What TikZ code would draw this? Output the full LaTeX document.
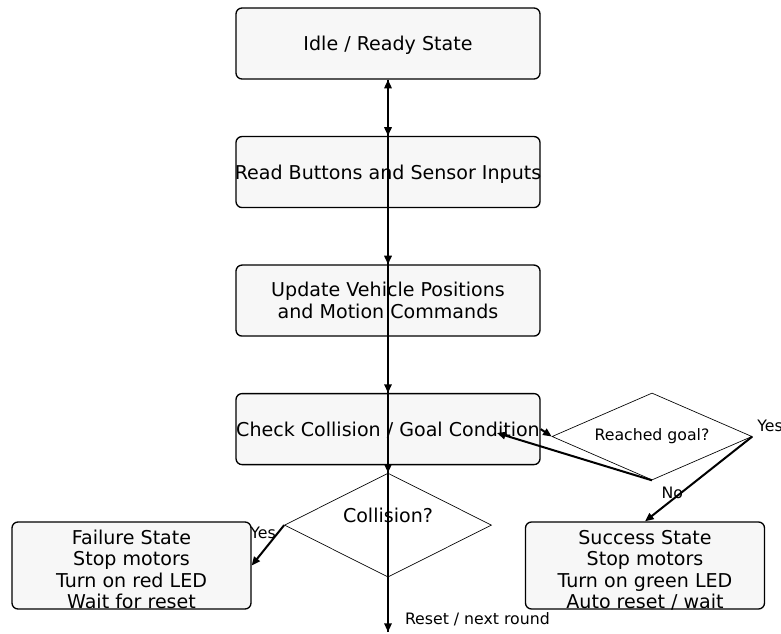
\documentclass[tikz,border=0pt]{standalone}
\usepackage{fontspec}
\setmainfont{DejaVu Sans}
\usetikzlibrary{shapes,arrows.meta,positioning}
\newcommand{\Nodefont}{\fontsize{14.3pt}{16.1pt}\selectfont}
\newcommand{\Edgefont}{\fontsize{11.8pt}{14pt}\selectfont}
\tikzstyle{block} = [rectangle, draw, line width=1pt, rounded corners=4.5pt, fill=black!3, align=center, inner xsep=-2pt, minimum width=228pt, minimum height=53.25pt, font=\Nodefont]
\tikzstyle{onerow} = [block, text height=14.6pt, text depth=3.4pt]
\tikzstyle{outcome} = [block, minimum width=179.25pt, minimum height=65.25pt, inner ysep=0pt, text height=64.5pt, text depth=0pt]
\tikzstyle{decision} = [diamond, draw, line width=0.5pt, inner sep=0pt, align=center]
\tikzstyle{flow} = [draw, line width=1.5pt, ->]
\tikzstyle{lbl} = [inner sep=0.5pt, font=\Edgefont]

\begin{document}
\begin{tikzpicture}[x=0.75pt, y=-0.75pt, node distance=96.4pt, >={Triangle[length=6.5pt,width=5.5pt]}]
	\useasboundingbox (0,0) rectangle (781,633);
	% main loop
	\node[onerow] (idle) at (388,43.5) {Idle / Ready State};
	\node[onerow] (read) [below of=idle] {Read Buttons and Sensor Inputs};
	\node[block] (update) [below of=read] {Update Vehicle Positions\\and Motion Commands};
	\node[onerow] (check) [below of=update] {Check Collision / Goal Condition};
	\node[decision, aspect=2, minimum width=155.25pt, minimum height=78pt, label={[font=\Nodefont, yshift=7.5pt]center:Collision?}] (collision) [below of=check, node distance=72pt] {};
	\node[decision, aspect=2.3, font=\Edgefont, minimum width=150pt, minimum height=65.25pt] (goal) at (652,436.5) {Reached goal?};
	% end states
	\node[outcome] (failure) at (131.5,565.5) {Failure State\\Stop motors\\Turn on red LED\\Wait for reset};
	\node[outcome] (success) at (645,565.5) {Success State\\Stop motors\\Turn on green LED\\Auto reset / wait};
	\coordinate (next) at (388,632);
	\coordinate (back) at (497,433);

	\draw[flow] (idle) -- (read);
	\draw[flow] (read) -- (update);
	\draw[flow] (update) -- (check);
	\draw[flow] (check) -- (collision);
	\draw[flow] (collision) -- node[lbl, pos=0.76, anchor=west, xshift=11.5pt] {Reset / next round} (next);
	\draw[flow] (next) -- (idle);
	\draw[flow] (collision.west) -- node[lbl, at start, anchor=north east, xshift=-5pt] {Yes} (failure.east);
	\draw[flow] (check.east) -- (goal.west);
	\draw[flow] (goal.east) -- node[lbl, at start, anchor=south west, xshift=2.5pt, yshift=2pt] {Yes} (success.north);
	\draw[flow] (goal.south) -- node[lbl, at start, anchor=north west, xshift=6pt, yshift=-3.5pt] {No} (back);
\end{tikzpicture}
\end{document}
